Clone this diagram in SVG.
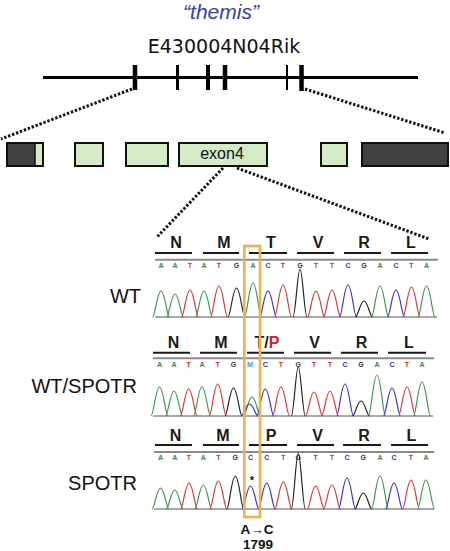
<svg xmlns="http://www.w3.org/2000/svg" width="450" height="551" viewBox="0 0 450 551">
<style>
.aa{font-family:"Liberation Sans",Arial,sans-serif;font-weight:bold;font-size:16px;text-anchor:middle;fill:#1a1a1a}
.bs{font-family:"Liberation Sans",Arial,sans-serif;font-weight:bold;font-size:7px;text-anchor:middle}
.lbl{font-family:"Liberation Sans",Arial,sans-serif;font-size:20px;text-anchor:end;fill:#111}
.ul{stroke:#1a1a1a;stroke-width:2}
.gl{stroke:#8a8a8a;stroke-width:2}
.bl{stroke:#555;stroke-width:1}
.dot{stroke:#111;stroke-width:3;stroke-dasharray:2.4 1.8;fill:none}
.ex{fill:#d4ebc6;stroke:#111;stroke-width:2}
.dk{fill:#404040;stroke:#111;stroke-width:2}
.tk{stroke:#000}
.A{fill:#2e8b3c}.T{fill:#e02828}.G{fill:#333}.C{fill:#2b33c0}.M{fill:#3a9ee0}
.pA{stroke:#3b9a4c}.pT{stroke:#e03535}.pG{stroke:#222}.pC{stroke:#3535c8}
.tr{fill:none}
</style>
<defs>
<path id="pk" d="M-8.5,0 C-6,0 -3.8,-1 0,-1 C3.8,-1 6,0 8.5,0" vector-effect="non-scaling-stroke" stroke-width="1.2"/>
<path id="pkn" d="M-7,0 C-4.5,0 -2.5,-1 0,-1 C2.5,-1 4.5,0 7,0" vector-effect="non-scaling-stroke" stroke-width="1.2"/>
</defs>

<g id="title">
<text x="221" y="19" font-family="Liberation Sans,Arial,sans-serif" font-style="italic" font-size="21" fill="#3443a3" text-anchor="middle">“themis”</text>
<text x="224" y="53" font-family="DejaVu Sans,sans-serif" font-size="19" fill="#111" text-anchor="middle">E430004N04Rik</text>
</g>

<g id="gene-model">
<line x1="43" y1="77.5" x2="418" y2="77.5" stroke="#000" stroke-width="3"/>
<line class="tk" x1="135" y1="65" x2="135" y2="90" stroke-width="4.5"/>
<line class="tk" x1="177.5" y1="65" x2="177.5" y2="90" stroke-width="3"/>
<line class="tk" x1="208" y1="65" x2="208" y2="90" stroke-width="4"/>
<line class="tk" x1="225" y1="65" x2="225" y2="90" stroke-width="4.5"/>
<line class="tk" x1="287" y1="65" x2="287" y2="90" stroke-width="2"/>
<line class="tk" x1="301.5" y1="65" x2="301.5" y2="91" stroke-width="4.5"/>
</g>

<g id="exon-map">
<rect class="ex" x="7" y="143" width="36" height="23"/>
<rect x="8" y="144" width="27" height="21" fill="#404040"/>
<line x1="35" y1="143" x2="35" y2="166" stroke="#111" stroke-width="1.5"/>
<rect class="ex" x="75" y="143" width="28" height="23"/>
<rect class="ex" x="126" y="143" width="42" height="23"/>
<g id="exon4">
<rect class="ex" x="179" y="143" width="88" height="23"/>
<text x="222" y="159" font-family="Liberation Sans,Arial,sans-serif" font-size="16" fill="#111" text-anchor="middle">exon4</text>
</g>
<rect class="ex" x="321" y="143" width="26" height="23"/>
<rect class="dk" x="362" y="143" width="86" height="23"/>
</g>

<g id="connectors">
<line class="dot" x1="132" y1="89" x2="1" y2="139"/>
<line class="dot" x1="305" y1="89" x2="445" y2="133"/>
<line class="dot" x1="223" y1="168" x2="157" y2="237"/>
<line class="dot" x1="237" y1="168" x2="429" y2="239"/>
</g>

<g id="sample-labels">
<text class="lbl" x="141" y="303">WT</text>
<text class="lbl" x="137" y="393">WT/SPOTR</text>
<text class="lbl" x="137" y="490">SPOTR</text>
</g>

<g id="row-wt">
<g class="ul">
<line x1="155" y1="253" x2="192" y2="253"/><line x1="203" y1="253" x2="239" y2="253"/><line x1="249" y1="253" x2="287" y2="253"/><line x1="297" y1="253" x2="334" y2="253"/><line x1="344" y1="253" x2="381" y2="253"/><line x1="391" y1="253" x2="428" y2="253"/>
</g>
<text class="aa" x="176" y="248">N</text><text class="aa" x="224" y="248">M</text><text class="aa" x="271" y="248">T</text><text class="aa" x="318" y="248">V</text><text class="aa" x="364" y="248">R</text><text class="aa" x="411" y="248">L</text>
<line class="gl" x1="155" y1="259.7" x2="438" y2="259.7"/>
<g class="bs">
<text class="A" x="161" y="267.5">A</text><text class="A" x="175" y="267.5">A</text><text class="T" x="190" y="267.5">T</text><text class="A" x="204" y="267.5">A</text><text class="T" x="219" y="267.5">T</text><text class="G" x="236.5" y="267.5">G</text><text class="A" x="253" y="267.5">A</text><text class="C" x="268" y="267.5">C</text><text class="T" x="283" y="267.5">T</text><text class="G" x="300" y="267.5">G</text><text class="T" x="316" y="267.5">T</text><text class="T" x="332" y="267.5">T</text><text class="C" x="348" y="267.5">C</text><text class="G" x="364" y="267.5">G</text><text class="A" x="380" y="267.5">A</text><text class="C" x="396" y="267.5">C</text><text class="T" x="411.5" y="267.5">T</text><text class="A" x="426.5" y="267.5">A</text>
</g>
<line class="bl" x1="155" y1="317" x2="437" y2="317"/>
<g class="tr">
<use href="#pk" class="pA" transform="translate(161,317) scale(1,26)"/>
<use href="#pk" class="pA" transform="translate(175,317) scale(1,23)"/>
<use href="#pk" class="pT" transform="translate(190,317) scale(1,27)"/>
<use href="#pk" class="pA" transform="translate(204,317) scale(1,26)"/>
<use href="#pk" class="pT" transform="translate(219,317) scale(1,31)"/>
<use href="#pk" class="pG" transform="translate(236.5,317) scale(1,29)"/>
<use href="#pk" class="pA" transform="translate(253,317) scale(1,34)"/>
<use href="#pk" class="pC" transform="translate(268,317) scale(1,26)"/>
<use href="#pk" class="pT" transform="translate(283,317) scale(1,32)"/>
<use href="#pkn" class="pG" transform="translate(300,317) scale(1,48)"/>
<use href="#pk" class="pT" transform="translate(316,317) scale(1,26)"/>
<use href="#pk" class="pT" transform="translate(332,317) scale(1,27)"/>
<use href="#pk" class="pC" transform="translate(348,317) scale(1,32)"/>
<use href="#pk" class="pG" transform="translate(364,317) scale(1,16)"/>
<use href="#pk" class="pA" transform="translate(380,317) scale(1,31)"/>
<use href="#pk" class="pC" transform="translate(396,317) scale(1,27)"/>
<use href="#pk" class="pT" transform="translate(411.5,317) scale(1,30)"/>
<use href="#pk" class="pA" transform="translate(426.5,317) scale(1,31)"/>
</g>
</g>

<g id="row-het">
<g class="ul">
<line x1="153" y1="352.7" x2="190" y2="352.7"/><line x1="200" y1="352.7" x2="237" y2="352.7"/><line x1="247" y1="352.7" x2="284" y2="352.7"/><line x1="294" y1="352.7" x2="331" y2="352.7"/><line x1="341" y1="352.7" x2="378" y2="352.7"/><line x1="388" y1="352.7" x2="426" y2="352.7"/>
</g>
<text class="aa" x="173.5" y="348">N</text><text class="aa" x="221" y="348">M</text><text class="aa" x="267" y="348">T/<tspan fill="#e02020">P</tspan></text><text class="aa" x="314.5" y="348">V</text><text class="aa" x="361.5" y="348">R</text><text class="aa" x="409" y="348">L</text>
<line class="gl" x1="153" y1="358.3" x2="434" y2="358.3"/>
<g class="bs">
<text class="A" x="159.5" y="367">A</text><text class="A" x="174" y="367">A</text><text class="T" x="188.7" y="367">T</text><text class="A" x="202" y="367">A</text><text class="T" x="217.7" y="367">T</text><text class="G" x="233.5" y="367">G</text><text class="M" x="250" y="367">M</text><text class="C" x="265.3" y="367">C</text><text class="T" x="281" y="367">T</text><text class="G" x="298.3" y="367">G</text><text class="T" x="314" y="367">T</text><text class="T" x="330" y="367">T</text><text class="C" x="345" y="367">C</text><text class="G" x="361" y="367">G</text><text class="A" x="377" y="367">A</text><text class="C" x="392" y="367">C</text><text class="T" x="407" y="367">T</text><text class="A" x="422" y="367">A</text>
</g>
<line class="bl" x1="153" y1="416" x2="433" y2="416"/>
<g class="tr">
<use href="#pk" class="pA" transform="translate(159.5,416) scale(1,29)"/>
<use href="#pk" class="pA" transform="translate(174,416) scale(1,25)"/>
<use href="#pk" class="pT" transform="translate(188.7,416) scale(1,27)"/>
<use href="#pk" class="pA" transform="translate(202,416) scale(1,29)"/>
<use href="#pk" class="pT" transform="translate(217.7,416) scale(1,32)"/>
<use href="#pk" class="pG" transform="translate(233.5,416) scale(1,28)"/>
<use href="#pk" class="pA" transform="translate(252,416) scale(1,19)"/>
<use href="#pk" class="pC" transform="translate(249.5,416) scale(1,12)"/>
<use href="#pk" class="pC" transform="translate(265.3,416) scale(1,27)"/>
<use href="#pk" class="pT" transform="translate(281,416) scale(1,29)"/>
<use href="#pkn" class="pG" transform="translate(298.3,416) scale(1,49)"/>
<use href="#pk" class="pT" transform="translate(314,416) scale(1,24)"/>
<use href="#pk" class="pT" transform="translate(330,416) scale(1,25)"/>
<use href="#pk" class="pC" transform="translate(345,416) scale(1,32)"/>
<use href="#pk" class="pG" transform="translate(361,416) scale(1,15)"/>
<use href="#pk" class="pA" transform="translate(377,416) scale(1,41)"/>
<use href="#pk" class="pC" transform="translate(392,416) scale(1,28)"/>
<use href="#pk" class="pT" transform="translate(407,416) scale(1,29)"/>
<use href="#pk" class="pA" transform="translate(422,416) scale(1,34)"/>
</g>
</g>

<g id="row-spotr">
<g class="ul">
<line x1="155" y1="445" x2="192" y2="445"/><line x1="203" y1="445" x2="239" y2="445"/><line x1="249" y1="445" x2="287" y2="445"/><line x1="297" y1="445" x2="334" y2="445"/><line x1="343" y1="445" x2="381" y2="445"/><line x1="391" y1="445" x2="428" y2="445"/>
</g>
<text class="aa" x="175.5" y="441">N</text><text class="aa" x="223" y="441">M</text><text class="aa" x="271" y="441" fill="#e02020">P</text><text class="aa" x="317.5" y="441">V</text><text class="aa" x="364" y="441">R</text><text class="aa" x="411.5" y="441">L</text>
<line class="gl" x1="154" y1="452" x2="434" y2="452"/>
<g class="bs">
<text class="A" x="160.5" y="459.5">A</text><text class="A" x="174.7" y="459.5">A</text><text class="T" x="189" y="459.5">T</text><text class="A" x="203.3" y="459.5">A</text><text class="T" x="218.3" y="459.5">T</text><text class="G" x="235.3" y="459.5">G</text><text class="C" x="250.5" y="459.5">C</text><text class="C" x="266.7" y="459.5">C</text><text class="T" x="283.3" y="459.5">T</text><text class="G" x="298.3" y="459.5">G</text><text class="T" x="315.7" y="459.5">T</text><text class="T" x="332" y="459.5">T</text><text class="C" x="347" y="459.5">C</text><text class="G" x="363.3" y="459.5">G</text><text class="A" x="380" y="459.5">A</text><text class="C" x="394" y="459.5">C</text><text class="T" x="411" y="459.5">T</text><text class="A" x="426" y="459.5">A</text>
</g>
<line class="bl" x1="154" y1="509" x2="434" y2="509"/>
<g class="tr">
<use href="#pk" class="pA" transform="translate(160.5,509) scale(1,21)"/>
<use href="#pk" class="pA" transform="translate(174.7,509) scale(1,19)"/>
<use href="#pk" class="pT" transform="translate(189,509) scale(1,26)"/>
<use href="#pk" class="pA" transform="translate(203.3,509) scale(1,24)"/>
<use href="#pk" class="pT" transform="translate(218.3,509) scale(1,28)"/>
<use href="#pk" class="pG" transform="translate(235.3,509) scale(1,33)"/>
<use href="#pk" class="pC" transform="translate(250.5,509) scale(1,23)"/>
<use href="#pk" class="pC" transform="translate(266.7,509) scale(1,26)"/>
<use href="#pk" class="pT" transform="translate(283.3,509) scale(1,27)"/>
<use href="#pkn" class="pG" transform="translate(298.3,509) scale(1,56)"/>
<use href="#pk" class="pT" transform="translate(315.7,509) scale(1,23)"/>
<use href="#pk" class="pT" transform="translate(332,509) scale(1,24)"/>
<use href="#pk" class="pC" transform="translate(347,509) scale(1,31)"/>
<use href="#pk" class="pG" transform="translate(363.3,509) scale(1,16)"/>
<use href="#pk" class="pA" transform="translate(380,509) scale(1,33)"/>
<use href="#pk" class="pC" transform="translate(394,509) scale(1,26)"/>
<use href="#pk" class="pT" transform="translate(411,509) scale(1,29)"/>
<use href="#pk" class="pA" transform="translate(426,509) scale(1,29)"/>
</g>
<text x="252" y="484" font-family="Liberation Sans,Arial,sans-serif" font-weight="bold" font-size="11" text-anchor="middle" fill="#111">*</text>
</g>

<g id="mutation-box">
<rect x="244.3" y="246" width="15.7" height="271" fill="none" stroke="#f6ae4a" stroke-width="2.6"/>
</g>

<g id="mutation-label" font-family="Liberation Sans,Arial,sans-serif" font-weight="bold" font-size="13.5" text-anchor="middle" fill="#111">
<text x="257" y="534">A→C</text>
<text x="258" y="549">1799</text>
</g>
</svg>
